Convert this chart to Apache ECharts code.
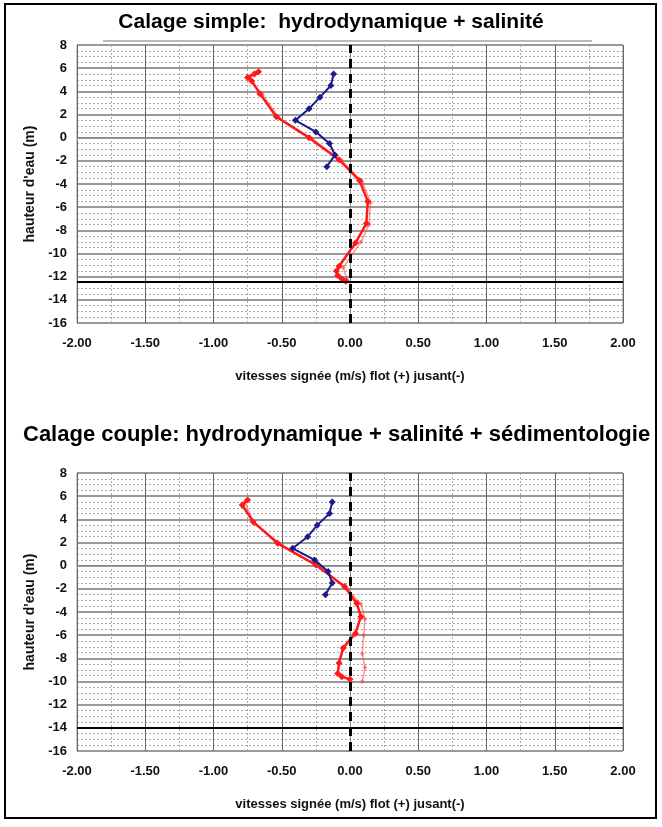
<!DOCTYPE html>
<html>
<head>
<meta charset="utf-8">
<script src="https://cdn.jsdelivr.net/npm/echarts@6/dist/echarts.min.js"></script>
<style>
  html, body { margin: 0; padding: 0; background: #fff; }
  #cht { width: 662px; height: 827px; }
</style>
</head>
<body>
<div id="cht"></div>
<script>
const cht = echarts.init(document.getElementById('cht'));

// x tick labels (m/s) and y range (m)
const xTicks = ['-2.00', '-1.50', '-1.00', '-0.50', '0.00', '0.50', '1.00', '1.50', '2.00'];
const yMin = -16;
const yMax = 8;

// top chart: calage simple
const topBlueX = [-0.12, -0.14, -0.22, -0.30, -0.40, -0.25, -0.15, -0.11, -0.17];
const topBlueY = [5.5, 4.5, 3.5, 2.5, 1.5, 0.5, -0.5, -1.5, -2.5];
const topRedX = [-0.67, -0.70, -0.75, -0.72, -0.66, -0.54, -0.30, -0.08, 0.07, 0.13, 0.12, 0.04, -0.08, -0.10, -0.09, -0.06, -0.03];
const topRedY = [5.7, 5.5, 5.2, 4.9, 3.8, 1.8, 0.0, -1.9, -3.7, -5.5, -7.4, -9.1, -11.1, -11.5, -11.9, -12.2, -12.4];
const topRed2X = [-0.70, -0.74, -0.64, -0.52, -0.28, -0.06, 0.09, 0.15, 0.14, 0.08, -0.05, -0.02];
const topRed2Y = [5.6, 5.0, 3.7, 1.7, -0.1, -2.0, -3.8, -5.6, -7.5, -9.0, -11.2, -12.3];
const topLevel = -12.4;

// bottom chart: calage couple
const botBlueX = [-0.13, -0.15, -0.24, -0.31, -0.42, -0.26, -0.16, -0.13, -0.18];
const botBlueY = [5.5, 4.5, 3.5, 2.5, 1.5, 0.5, -0.5, -1.5, -2.5];
const botRedX = [-0.75, -0.79, -0.71, -0.53, -0.25, -0.04, 0.05, 0.08, 0.04, -0.05, -0.08, -0.09, -0.06, 0.0];
const botRedY = [5.67, 5.24, 3.8, 1.93, 0.06, -1.8, -3.26, -4.4, -5.85, -7.1, -8.4, -9.3, -9.6, -9.8];
const botRed2X = [-0.77, -0.70, -0.50, -0.22, -0.02, 0.08, 0.11, 0.10, 0.09, 0.11, 0.09];
const botRed2Y = [5.5, 3.6, 1.8, -0.1, -2.0, -3.3, -4.6, -6.0, -7.6, -8.8, -10.0];
const botLevel = -14;

const font = 'Arial, "Liberation Sans", sans-serif';
const pairs = (xs, ys) => xs.map((x, i) => [x, ys[i]]);

const xAxisOf = (idx) => ({
  gridIndex: idx,
  type: 'value',
  min: -2,
  max: 2,
  interval: 0.5,
  name: 'vitesses signée (m/s) flot (+) jusant(-)',
  nameLocation: 'middle',
  nameGap: 47,
  nameTextStyle: { fontFamily: font, fontWeight: 'bold', fontSize: 13, color: '#111' },
  axisLine: { lineStyle: { color: '#888' } },
  axisTick: { show: true, length: 4, lineStyle: { color: '#888' } },
  axisLabel: {
    fontFamily: font, fontWeight: 'bold', fontSize: 13, color: '#111', margin: 14,
    formatter: (v) => xTicks[Math.round((v + 2) / 0.5)],
  },
  splitLine: { show: true, lineStyle: { color: '#666', width: 1 } },
  minorTick: { show: false, splitNumber: 2 },
  minorSplitLine: { show: true, lineStyle: { color: '#aaa', type: [2, 2] } },
});

const yAxisOf = (idx) => ({
  gridIndex: idx,
  type: 'value',
  min: yMin,
  max: yMax,
  interval: 2,
  name: "hauteur d'eau (m)",
  nameLocation: 'middle',
  nameGap: 40,
  nameRotate: 90,
  nameTextStyle: { fontFamily: font, fontWeight: 'bold', fontSize: 14, color: '#111' },
  axisLine: { show: true, lineStyle: { color: '#888' } },
  axisTick: { show: true, length: 4, lineStyle: { color: '#888' } },
  axisLabel: { fontFamily: font, fontWeight: 'bold', fontSize: 13, color: '#111', margin: 10 },
  splitLine: { show: true, lineStyle: { color: '#999', width: 2 } },
  minorTick: { show: false, splitNumber: 4 },
  minorSplitLine: { show: true, lineStyle: { color: '#aaa', type: [2, 2] } },
});

const refLines = (idx, level) => ({
  type: 'line',
  xAxisIndex: idx,
  yAxisIndex: idx,
  data: [],
  markLine: {
    silent: true,
    symbol: 'none',
    label: { show: false },
    data: [
      { xAxis: 0, lineStyle: { color: '#000', width: 3, type: [9, 6] } },
      { yAxis: level, lineStyle: { color: '#000', width: 2, type: 'solid' } },
    ],
  },
});

const redLine = (idx, data, faint) => ({
  type: 'line',
  xAxisIndex: idx,
  yAxisIndex: idx,
  data,
  symbol: 'diamond',
  symbolSize: faint ? 5 : 7,
  itemStyle: { color: faint ? 'rgba(255,60,60,0.55)' : '#ff1a1a' },
  lineStyle: { color: faint ? 'rgba(255,60,60,0.55)' : '#ff1a1a', width: faint ? 1.5 : 2.5 },
  z: faint ? 3 : 4,
});

const blueLine = (idx, data) => ({
  type: 'line',
  xAxisIndex: idx,
  yAxisIndex: idx,
  data,
  symbol: 'diamond',
  symbolSize: 7,
  itemStyle: { color: '#1c1c8a' },
  lineStyle: { color: '#1c1c8a', width: 2 },
  z: 5,
});

const option = {
  animation: false,
  backgroundColor: '#fff',
  title: [
    {
      text: 'Calage simple:  hydrodynamique + salinité',
      left: 'center',
      top: 7,
      textStyle: { fontFamily: font, fontWeight: 'bold', fontSize: 21, color: '#000' },
    },
    {
      text: 'Calage couple: hydrodynamique + salinité + sédimentologie',
      left: 18,
      top: 419,
      textStyle: { fontFamily: font, fontWeight: 'bold', fontSize: 22, color: '#000' },
    },
  ],
  grid: [
    { left: 77, top: 45, width: 546, height: 278, show: true, borderColor: '#999', backgroundColor: '#fff' },
    { left: 77, top: 473, width: 546, height: 278, show: true, borderColor: '#999', backgroundColor: '#fff' },
  ],
  xAxis: [xAxisOf(0), xAxisOf(1)],
  yAxis: [yAxisOf(0), yAxisOf(1)],
  graphic: [
    {
      type: 'rect',
      shape: { x: 5, y: 4, width: 651, height: 814 },
      style: { fill: 'none', stroke: '#000', lineWidth: 2 },
      silent: true,
    },
    {
      type: 'line',
      shape: { x1: 103, y1: 41, x2: 592, y2: 41 },
      style: { stroke: '#777', lineWidth: 1 },
      silent: true,
    },
  ],
  series: [
    refLines(0, topLevel),
    redLine(0, pairs(topRed2X, topRed2Y), true),
    redLine(0, pairs(topRedX, topRedY), false),
    blueLine(0, pairs(topBlueX, topBlueY)),
    refLines(1, botLevel),
    redLine(1, pairs(botRed2X, botRed2Y), true),
    redLine(1, pairs(botRedX, botRedY), false),
    blueLine(1, pairs(botBlueX, botBlueY)),
  ],
};

cht.setOption(option);
window.onresize = () => cht.resize();
</script>
</body>
</html>
